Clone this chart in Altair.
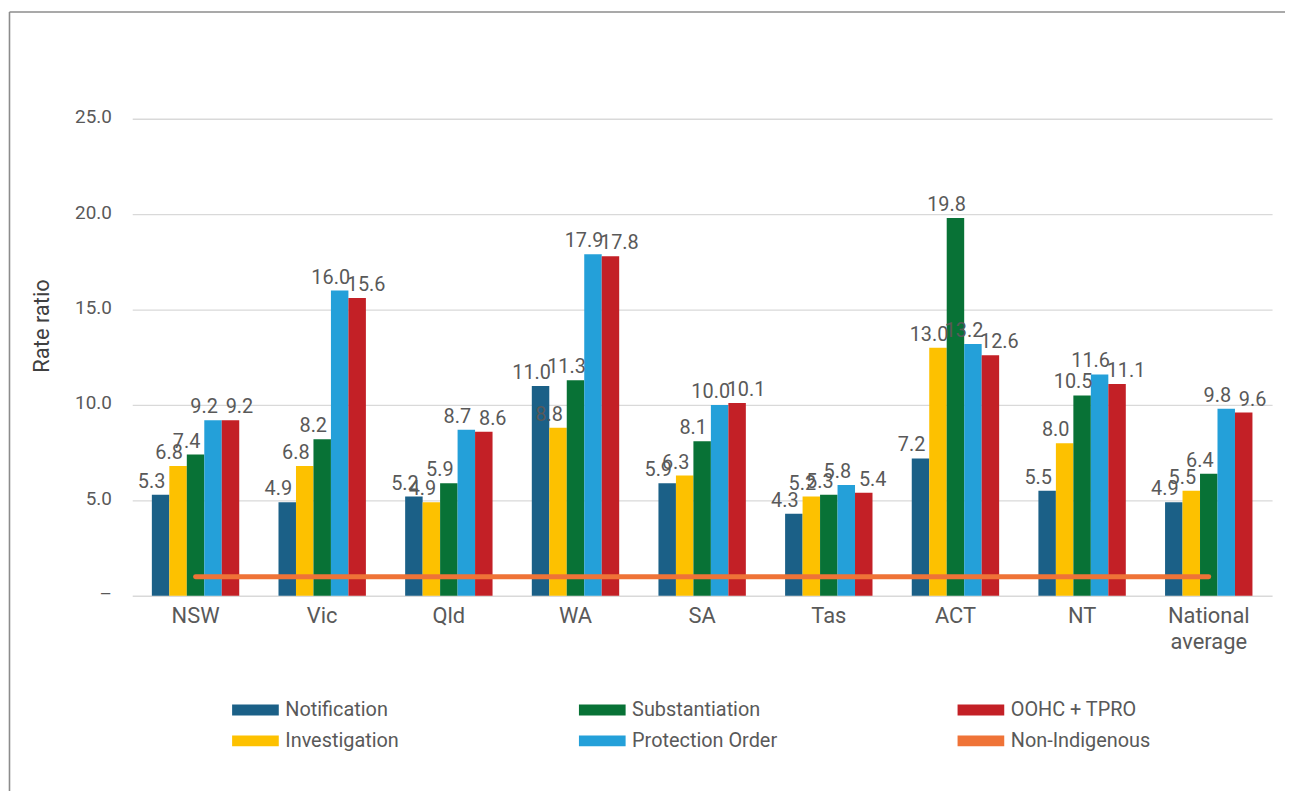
import altair as alt
import pandas as pd

# ---- data ----
categories = ["NSW", "Vic", "Qld", "WA", "SA", "Tas", "ACT", "NT", "National average"]
series_names = ["Notification", "Investigation", "Substantiation", "Protection Order", "OOHC + TPRO"]
notification = [5.3, 4.9, 5.2, 11.0, 5.9, 4.3, 7.2, 5.5, 4.9]
investigation = [6.8, 6.8, 4.9, 8.8, 6.3, 5.2, 13.0, 8.0, 5.5]
substantiation = [7.4, 8.2, 5.9, 11.3, 8.1, 5.3, 19.8, 10.5, 6.4]
protection_order = [9.2, 16.0, 8.7, 17.9, 10.0, 5.8, 13.2, 11.6, 9.8]
oohc_tpro = [9.2, 15.6, 8.6, 17.8, 10.1, 5.4, 12.6, 11.1, 9.6]
non_indigenous = [1.0, 1.0, 1.0, 1.0, 1.0, 1.0, 1.0, 1.0, 1.0]
y_ticks = [0, 5, 10, 15, 20, 25]

series_colors = {
    "Notification": "#1B6087",
    "Investigation": "#FDC100",
    "Substantiation": "#087236",
    "Protection Order": "#24A0D9",
    "OOHC + TPRO": "#C32026",
    "Non-Indigenous": "#EF7337",
}
# legend fills column by column (2 rows x 3 columns)
legend_order = ["Notification", "Investigation", "Substantiation",
                "Protection Order", "OOHC + TPRO", "Non-Indigenous"]

rows = []
for name, vals in zip(series_names, [notification, investigation, substantiation,
                                     protection_order, oohc_tpro]):
    for c, v in zip(categories, vals):
        rows.append({"Jurisdiction": c, "Series": name, "Value": v})
df = pd.DataFrame(rows)
line_df = pd.DataFrame({"Jurisdiction": categories, "Value": non_indigenous})

FONT = "Roboto"
TXT = "#595959"
W, H = 1147, 480

x_enc = alt.X(
    "Jurisdiction:N", sort=categories,
    scale=alt.Scale(paddingInner=0.31, paddingOuter=0.155),
    axis=alt.Axis(title=None, labelExpr="split(datum.label, ' ')", labelFontSize=22,
                  labelFont=FONT, labelColor=TXT, labelPadding=10, labelLineHeight=26,
                  ticks=False, domain=False, grid=False, labelAngle=0),
)
y_enc = alt.Y(
    "Value:Q", scale=alt.Scale(domain=[0, 25], nice=False),
    axis=alt.Axis(values=y_ticks, title="Rate ratio",
                  labelExpr="datum.value == 0 ? '–' : format(datum.value, '.1f')",
                  labelFontSize=19, labelFont=FONT, labelColor=TXT, labelPadding=21,
                  labelOffset=-2,
                  ticks=False, domain=False, grid=True, gridColor="#D9D9D9", gridWidth=1.3,
                  titleFont=FONT, titleFontSize=22, titleColor="#404040", titleFontWeight="normal",
                  titleX=-91, titleY=208, titleAngle=-90, titleAlign="center",
                  titleBaseline="middle"),
)
xoff = alt.XOffset("Series:N", sort=series_names, scale=alt.Scale(paddingInner=0, paddingOuter=0))

bars = alt.Chart(df).mark_bar().encode(
    x=x_enc, y=y_enc, xOffset=xoff,
    color=alt.Color(
        "Series:N",
        scale=alt.Scale(domain=legend_order, range=[series_colors[s] for s in legend_order]),
        legend=alt.Legend(
            title=None, orient="none", legendX=114, legendY=585, columns=3,
            columnPadding=180, rowPadding=11,
            symbolType="M-4.27,-1H4.27V1H-4.27Z", symbolSize=121, symbolStrokeWidth=0,
            symbolOpacity=1, labelFont=FONT, labelFontSize=20, labelColor=TXT,
            labelOffset=20, labelLimit=300,
        ),
    ),
)

line = alt.Chart(line_df).mark_line(color=series_colors["Non-Indigenous"], strokeWidth=5,
                                     strokeCap="round").encode(
    x=alt.X("Jurisdiction:N", sort=categories), y="Value:Q")

labels_left = alt.Chart(df).transform_filter(alt.datum.Series != "OOHC + TPRO").mark_text(
    baseline="alphabetic", dy=-7, dx=-9, fontSize=20, font=FONT, color=TXT
).encode(x=alt.X("Jurisdiction:N", sort=categories), xOffset=xoff, y="Value:Q",
         text=alt.Text("Value:Q", format=".1f"))

labels_right = alt.Chart(df).transform_filter(alt.datum.Series == "OOHC + TPRO").mark_text(
    baseline="alphabetic", dy=-7, dx=9, fontSize=20, font=FONT, color=TXT
).encode(x=alt.X("Jurisdiction:N", sort=categories), xOffset=xoff, y="Value:Q",
         text=alt.Text("Value:Q", format=".1f"))

frame = alt.Data(values=[{"k": 1}])
border_left = alt.Chart(frame).mark_rule(color="#8C8C8C", strokeWidth=1.6).encode(
    x=alt.value(-123.5), y=alt.value(-107.5), y2=alt.value(720))
border_top = alt.Chart(frame).mark_rule(color="#8C8C8C", strokeWidth=1.6).encode(
    x=alt.value(-123.5), x2=alt.value(1300), y=alt.value(-107.5))

chart = alt.layer(bars, line, labels_left, labels_right, border_left, border_top).properties(
    width=W, height=H,
    padding={"left": 125, "top": 109, "right": 13, "bottom": 194},
    autosize=alt.AutoSizeParams(type="none"),
).configure(background="white").configure_view(stroke=None)

chart.save("out.html", embed_options={"renderer": "svg", "actions": False})
